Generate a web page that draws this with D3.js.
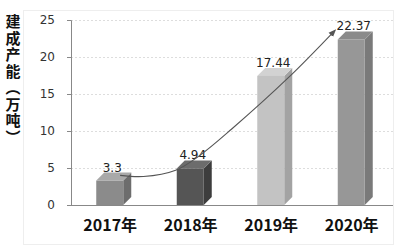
<!DOCTYPE html>
<html>
<head>
<meta charset="utf-8">
<script src="https://cdn.jsdelivr.net/npm/d3@7"></script>
<style>
  body { margin: 0; background: #fff; }
  svg { display: block; }
</style>
</head>
<body>
<div id="chart"></div>
<script>
/* data */
var years = ["2017年", "2018年", "2019年", "2020年"];
var capacity = [3.3, 4.94, 17.44, 22.37];
var yTicks = [0, 5, 10, 15, 20, 25];
// trend arrow, [band position, value]
var trend = [[0.61, 4.0], [0.9, 3.85], [1.3, 4.7], [1.6, 6.7], [2.0, 10.3], [2.7, 17.2], [3.28, 23.6]];
var barColors = [
  { front: "#8b8b8b", top: "#a9a9a9", side: "#6d6d6d" },
  { front: "#555555", top: "#6c6c6c", side: "#3d3d3d" },
  { front: "#c3c3c3", top: "#d2d2d2", side: "#a3a3a3" },
  { front: "#979797", top: "#8a8a8a", side: "#7a7a7a" }
];

/* Anonymous Wrapper */
(function() {

var W = 400, H = 251;
var plotLeft = 71, plotRight = 393, plotTop = 20, plotBottom = 205;
var depth = 8;

var svg = d3.select("#chart").append("svg")
  .attr("width", W)
  .attr("height", H);

// faint outer frame
svg.append("rect")
  .attr("x", 23.5).attr("y", 10.5)
  .attr("width", 370).attr("height", 234)
  .style("fill", "none")
  .style("stroke", "#eeeeee");

var x = d3.scaleBand().domain(years).range([plotLeft, plotRight]);
var y = d3.scaleLinear().domain([0, 25]).range([plotBottom, plotTop]);
var xPos = d3.scaleLinear().domain([0, 4]).range([plotLeft, plotRight]);

// gridlines
svg.append("g").selectAll("line")
  .data(yTicks.slice(1))
  .enter().append("line")
  .attr("x1", plotLeft).attr("x2", plotRight)
  .attr("y1", function(d) { return Math.round(y(d)) + 0.5; })
  .attr("y2", function(d) { return Math.round(y(d)) + 0.5; })
  .style("stroke", "#dddddd")
  .style("stroke-dasharray", "2,2");

// y axis
var yAxis = svg.append("g")
  .attr("transform", "translate(" + plotLeft + ",0)")
  .call(d3.axisLeft(y).tickValues(yTicks).tickSize(4).tickPadding(12));
yAxis.select(".domain").style("stroke", "#888");
yAxis.selectAll(".tick line").style("stroke", "#888");
yAxis.selectAll("text")
  .style("font-family", "'DejaVu Sans', sans-serif")
  .style("font-size", "12px")
  .style("fill", "#333");

// bars
var bars = svg.append("g").selectAll("g")
  .data(capacity)
  .enter().append("g");

function cx(i) { return x(years[i]) + x.bandwidth() / 2; }

bars.append("path") // side
  .attr("d", function(d, i) {
    var x1 = cx(i) + 12, yt = y(d);
    return "M" + x1 + "," + yt + "L" + (x1 + depth) + "," + (yt - depth) +
      "L" + (x1 + depth) + "," + (plotBottom - depth) + "L" + x1 + "," + plotBottom + "Z";
  })
  .style("fill", function(d, i) { return barColors[i].side; });

bars.append("path") // top
  .attr("d", function(d, i) {
    var x0 = cx(i) - 15, x1 = cx(i) + 12, yt = y(d);
    return "M" + x0 + "," + yt + "L" + (x0 + depth) + "," + (yt - depth) +
      "L" + (x1 + depth) + "," + (yt - depth) + "L" + x1 + "," + yt + "Z";
  })
  .style("fill", function(d, i) { return barColors[i].top; });

bars.append("rect") // front
  .attr("x", function(d, i) { return cx(i) - 15; })
  .attr("y", function(d) { return y(d); })
  .attr("width", 27)
  .attr("height", function(d) { return plotBottom - y(d); })
  .style("fill", function(d, i) { return barColors[i].front; });

// x axis line
svg.append("line")
  .attr("x1", plotLeft).attr("x2", plotRight)
  .attr("y1", plotBottom + 0.5).attr("y2", plotBottom + 0.5)
  .style("stroke", "#888");

// value labels
bars.append("text")
  .attr("x", function(d, i) { return cx(i) + 1; })
  .attr("y", function(d) { return y(d) - depth - 1; })
  .attr("text-anchor", "middle")
  .style("font-family", "'DejaVu Sans', sans-serif")
  .style("font-size", "12px")
  .style("fill", "#222")
  .text(function(d) { return d; });

// category labels
svg.append("g").selectAll("text")
  .data(years)
  .enter().append("text")
  .attr("x", function(d, i) { return cx(i) - 1; })
  .attr("y", 231)
  .attr("text-anchor", "middle")
  .style("font-family", "'Noto Sans CJK SC', sans-serif")
  .style("font-weight", "bold")
  .style("font-size", "16px")
  .style("fill", "#111")
  .text(function(d) { return d; });

// trend arrow
svg.append("defs").append("marker")
  .attr("id", "arrow")
  .attr("viewBox", "0 0 10 10")
  .attr("refX", 8).attr("refY", 5)
  .attr("markerWidth", 7).attr("markerHeight", 7)
  .attr("orient", "auto")
  .append("path")
  .attr("d", "M0,1L10,5L0,9Z")
  .style("fill", "#555");

var line = d3.line()
  .x(function(d) { return xPos(d[0]); })
  .y(function(d) { return y(d[1]); })
  .curve(d3.curveCatmullRom);

svg.append("path")
  .datum(trend)
  .attr("d", line)
  .attr("marker-end", "url(#arrow)")
  .style("fill", "none")
  .style("stroke", "#555")
  .style("stroke-width", 1.1);

// y title
svg.append("text")
  .attr("x", 13)
  .attr("y", 14)
  .style("writing-mode", "vertical-rl")
  .style("font-family", "'Noto Sans CJK SC', sans-serif")
  .style("font-weight", "bold")
  .style("font-size", "15px")
  .style("letter-spacing", "1.5px")
  .style("fill", "#111")
  .text("建成产能（万吨）");

})(); /* Anonymous Wrapper */
</script>
</body>
</html>
